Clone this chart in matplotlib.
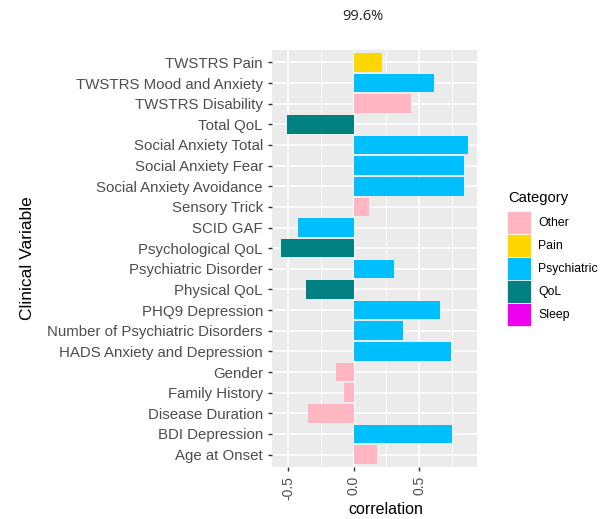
import numpy as np
import matplotlib.pyplot as plt
import matplotlib.transforms as mtransforms
from matplotlib.patches import Patch

# variables from top to bottom
variables = ["TWSTRS Pain", "TWSTRS Mood and Anxiety", "TWSTRS Disability", "Total QoL",
             "Social Anxiety Total", "Social Anxiety Fear", "Social Anxiety Avoidance",
             "Sensory Trick", "SCID GAF", "Psychological QoL", "Psychiatric Disorder",
             "Physical QoL", "PHQ9 Depression", "Number of Psychiatric Disorders",
             "HADS Anxiety and Depression", "Gender", "Family History", "Disease Duration",
             "BDI Depression", "Age at Onset"]
correlation = [0.22, 0.61, 0.44, -0.51, 0.87, 0.84, 0.84, 0.12, -0.42, -0.55, 0.31,
               -0.36, 0.66, 0.38, 0.74, -0.13, -0.07, -0.35, 0.75, 0.18]
category = ["Pain", "Psychiatric", "Other", "QoL", "Psychiatric", "Psychiatric", "Psychiatric",
            "Other", "Psychiatric", "QoL", "Psychiatric", "QoL", "Psychiatric", "Psychiatric",
            "Psychiatric", "Other", "Other", "Other", "Psychiatric", "Other"]

categories = ["Other", "Pain", "Psychiatric", "QoL", "Sleep"]
colours = {"Other": "#FFB6C1", "Pain": "#FFD700", "Psychiatric": "#00BFFF",
           "QoL": "#008080", "Sleep": "#EE00EE"}

plt.rcParams['font.family'] = ['Liberation Sans', 'DejaVu Sans']

fig = plt.figure(figsize=(6.06, 5.19), dpi=100)
ax = fig.add_axes([272/606, 1-467/519, 205/606, 417/519])

n = len(variables)
ypos = np.arange(n)[::-1]
ax.barh(ypos, correlation, height=0.9, color=[colours[c] for c in category], zorder=3)

lo, hi = min(correlation + [0]), max(correlation + [0])
pad = (hi - lo) * 0.05
ax.set_xlim(lo - pad, hi + pad)
ax.set_ylim(-0.6, n - 1 + 0.6)

ax.set_facecolor("#EBEBEB")
ax.set_xticks([-0.5, 0.0, 0.5])
ax.set_xticklabels(["-0.5", "0.0", "0.5"], rotation=90, fontsize=10, color="#4D4D4D")
# ggplot puts rotated labels a little right of the tick
shift = mtransforms.ScaledTranslation(5/100, 0, fig.dpi_scale_trans)
for lab in ax.get_xticklabels():
    lab.set_transform(lab.get_transform() + shift)
ax.set_xticks([-0.25, 0.25, 0.75], minor=True)
ax.set_yticks(ypos)
ax.set_yticklabels(variables, fontsize=10.8, color="#4D4D4D")
ax.grid(which="major", color="white", lw=1.1, zorder=0)
ax.grid(which="minor", axis="x", color="white", lw=0.55, zorder=0)
ax.tick_params(which="major", length=3, width=1, color="#333333", pad=3.5)
ax.tick_params(which="minor", length=0)
for s in ax.spines.values():
    s.set_visible(False)

ax.set_xlabel("correlation", fontsize=11.5)
ax.xaxis.set_label_coords((386-272)/205, -(510-467)/417)
ax.xaxis.label.set_va("center")
fig.text(28/606, 1-258/519, "Clinical Variable", rotation=90, fontsize=12.5,
         ha="center", va="center")
fig.text(363/606, 1-16.5/519, "99.6%", fontsize=10.5, family="Open Sans",
         ha="center", va="center", color="#222222")

# legend
fig.text(508/606, 1-198/519, "Category", fontsize=10.6, ha="left", va="center")
handles = [Patch(facecolor=colours[c], edgecolor="white", lw=0.5) for c in categories]
leg = fig.legend(handles, categories, loc="upper left", bbox_to_anchor=(507/606, 1-211/519),
                 frameon=False, fontsize=8.8,
                 handlelength=1.95, handleheight=2.52, labelspacing=0, handletextpad=0.6,
                 borderpad=0, borderaxespad=0)

fig.savefig("out.png", dpi=100)
